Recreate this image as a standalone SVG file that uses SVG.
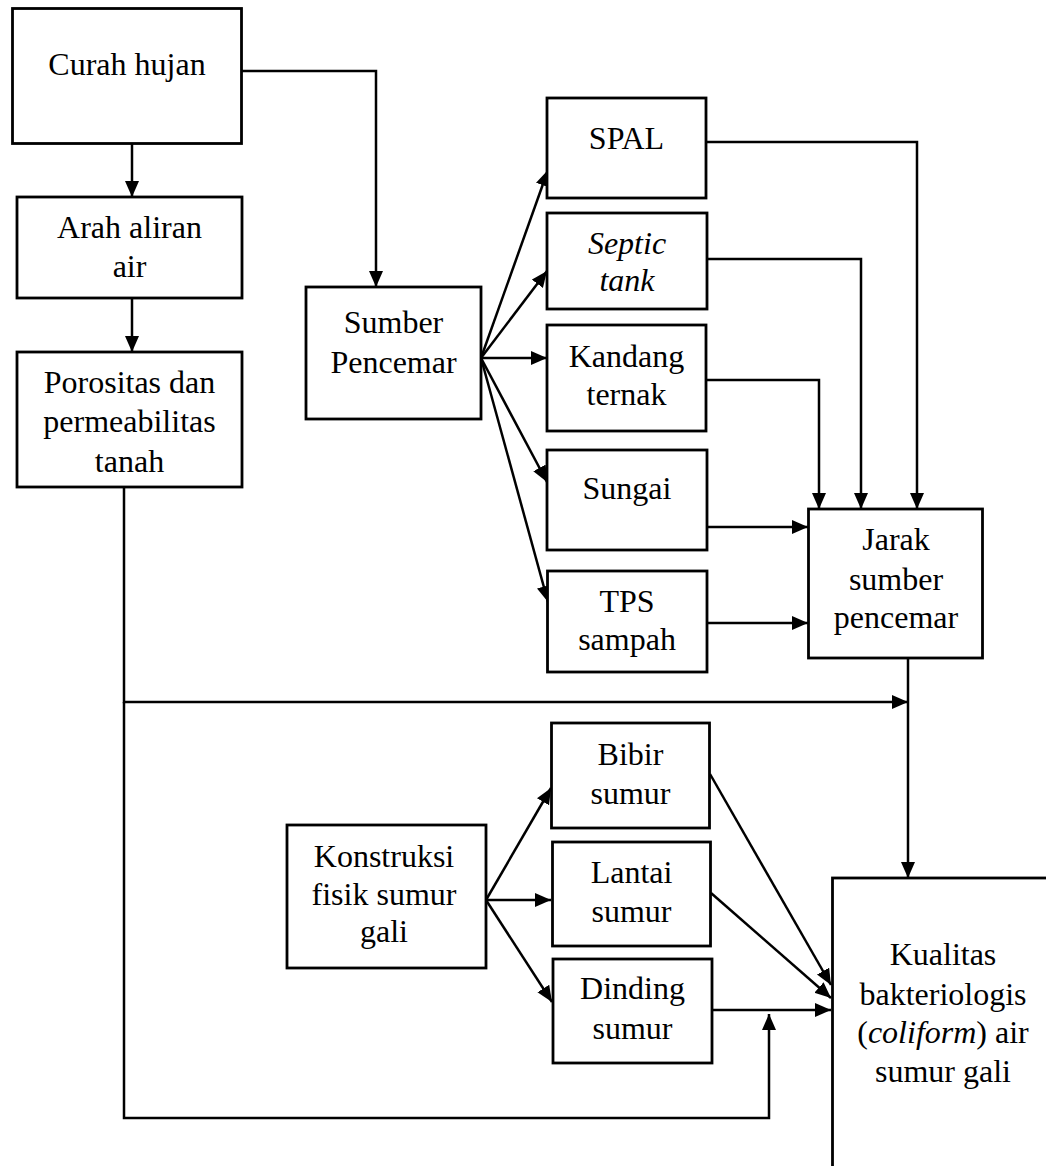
<svg xmlns="http://www.w3.org/2000/svg" width="1046" height="1166" viewBox="0 0 1046 1166">
<style>
.box{fill:#fff;stroke:#000;stroke-width:2.8}
.t{font-size:32px;fill:#000;text-anchor:middle}
.i{font-style:italic}
.c{fill:none;stroke:#000;stroke-width:2.5}
.a{marker-end:url(#ah)}
</style>
<defs>
<marker id="ah" markerUnits="userSpaceOnUse" markerWidth="17" markerHeight="15" refX="16" refY="7" orient="auto">
<path d="M0,0 L16,7 L0,14 z" fill="#000"/>
</marker>
</defs>
<rect width="1046" height="1166" fill="#fff"/>
<g id="connectors">
<path class="c a" d="M132,143 V197"/>
<path class="c a" d="M132,298 V352"/>
<path class="c a" d="M242,71 H376 V287"/>
<path class="c a" d="M481,358 L548,170"/>
<path class="c a" d="M481,358 L547,271"/>
<path class="c a" d="M481,358 H547"/>
<path class="c a" d="M481,358 L547,482"/>
<path class="c a" d="M481,358 L548,602"/>
<path class="c a" d="M706,142 H917 V509"/>
<path class="c a" d="M707,259 H861 V509"/>
<path class="c a" d="M706,380 H819 V509"/>
<path class="c a" d="M707,527 H808"/>
<path class="c a" d="M707,623 H808"/>
<path class="c a" d="M908,658 V878"/>
<path class="c a" d="M124,487 V702 H908"/>
<path class="c a" d="M124,702 V1118 H769 V1014"/>
<path class="c a" d="M486,900 L551,788"/>
<path class="c a" d="M486,900 H551"/>
<path class="c a" d="M486,900 L552,1002"/>
<path class="c a" d="M710,774 L831,985"/>
<path class="c a" d="M711,893 L831,998"/>
<path class="c a" d="M712,1010 H831"/>
</g>
<g font-family="'Liberation Serif', Tinos, 'Times New Roman', 'DejaVu Serif', serif">
<g id="curah"><rect class="box" x="12.5" y="8.5" width="229" height="135"/><text class="t" x="127" y="75">Curah hujan</text></g>
<g id="arah"><rect class="box" x="17" y="197" width="225" height="101"/><text class="t" x="129.5" y="238">Arah aliran</text><text class="t" x="129.5" y="277">air</text></g>
<g id="porositas"><rect class="box" x="17" y="352" width="225" height="135"/><text class="t" x="129.5" y="393">Porositas dan</text><text class="t" x="129.5" y="432">permeabilitas</text><text class="t" x="129.5" y="472">tanah</text></g>
<g id="sumber"><rect class="box" x="306" y="287" width="175" height="132"/><text class="t" x="393.5" y="333">Sumber</text><text class="t" x="393.5" y="373">Pencemar</text></g>
<g id="spal"><rect class="box" x="547" y="98" width="159" height="100"/><text class="t" x="626.5" y="149">SPAL</text></g>
<g id="septic"><rect class="box" x="547" y="213" width="160" height="96"/><text class="t i" x="627" y="254">Septic</text><text class="t i" x="627" y="291">tank</text></g>
<g id="kandang"><rect class="box" x="547" y="325" width="159" height="106"/><text class="t" x="626.5" y="367">Kandang</text><text class="t" x="626.5" y="405">ternak</text></g>
<g id="sungai"><rect class="box" x="547" y="450" width="160" height="100"/><text class="t" x="627" y="499">Sungai</text></g>
<g id="tps"><rect class="box" x="547.5" y="571" width="159.5" height="101"/><text class="t" x="627" y="612">TPS</text><text class="t" x="627" y="650">sampah</text></g>
<g id="jarak"><rect class="box" x="808.5" y="509" width="174" height="149"/><text class="t" x="896" y="550">Jarak</text><text class="t" x="896" y="590">sumber</text><text class="t" x="896" y="628">pencemar</text></g>
<g id="konstruksi"><rect class="box" x="287" y="825" width="199" height="143"/><text class="t" x="384" y="867">Konstruksi</text><text class="t" x="384" y="905">fisik sumur</text><text class="t" x="384" y="942">gali</text></g>
<g id="bibir"><rect class="box" x="551.5" y="723" width="158" height="105"/><text class="t" x="630.5" y="765">Bibir</text><text class="t" x="630.5" y="804">sumur</text></g>
<g id="lantai"><rect class="box" x="552.5" y="842" width="158" height="104"/><text class="t" x="631.5" y="883">Lantai</text><text class="t" x="631.5" y="922">sumur</text></g>
<g id="dinding"><rect class="box" x="553" y="959" width="159" height="104"/><text class="t" x="632.5" y="999">Dinding</text><text class="t" x="632.5" y="1039">sumur</text></g>
<g id="kualitas"><rect class="box" x="832.5" y="878" width="300" height="320"/><text class="t" x="943" y="965">Kualitas</text><text class="t" x="943" y="1005">bakteriologis</text><text class="t" x="943" y="1043">(<tspan class="i">coliform</tspan>) air</text><text class="t" x="943" y="1082">sumur gali</text></g>
</g>
</svg>
